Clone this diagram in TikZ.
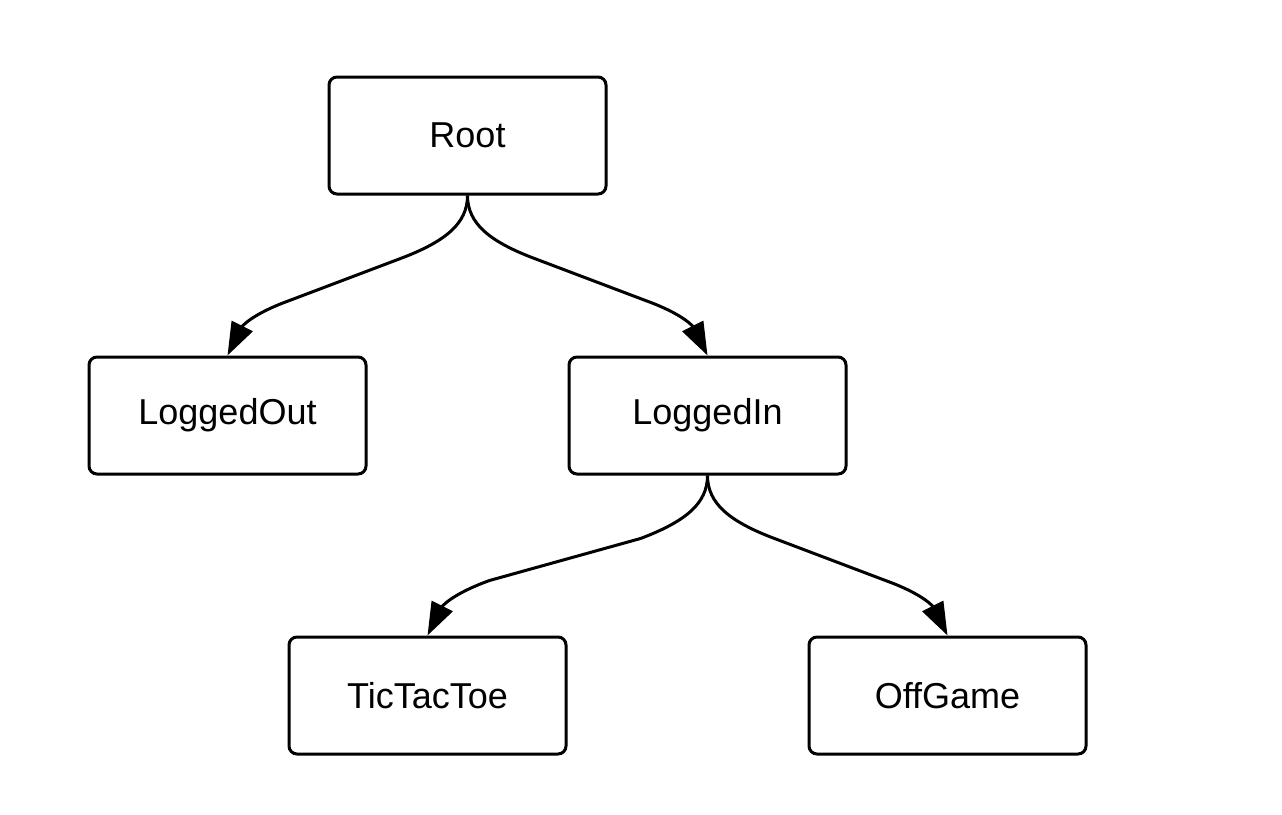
\documentclass[tikz,border=0pt]{standalone}
\usepackage{fontspec}
\setmainfont{Liberation Sans}
\usetikzlibrary{arrows.meta,calc}
\begin{document}
\begin{tikzpicture}[x=1pt,y=-1pt,
  box/.style={draw=black,line width=3pt,rounded corners=8pt,minimum width=277pt,minimum height=117pt,inner sep=0pt,font=\fontsize{36}{43}\selectfont,fill=white},
  conn/.style={line width=3pt,-{Triangle[length=33pt,width=23pt]}}]
\useasboundingbox (0,0) rectangle (1282,814);
\node[box] (root) at (467.5,135.5) {Root};
\node[box] (lo) at (227.5,415.5) {LoggedOut};
\node[box] (li) at (707.5,415.5) {LoggedIn};
\node[box] (ttt) at (427.5,695.5) {TicTacToe};
\node[box] (og) at (947.5,695.5) {OffGame};
\draw[conn] (root.south) .. controls +(0,28) and +(45,-17) .. ($(root.south)+(-67,63)$)
  -- ($(lo.north)+(62,-55)$) .. controls +(-40,14.5) and +(14,-28) .. (lo.north);
\draw[conn] (root.south) .. controls +(0,28) and +(-45,-17) .. ($(root.south)+(67,63)$)
  -- ($(li.north)+(-62,-55)$) .. controls +(40,14.5) and +(-14,-28) .. (li.north);
\draw[conn] (li.south) .. controls +(0,28) and +(45,-17) .. ($(li.south)+(-67,63)$)
  -- ($(ttt.north)+(62,-55)$) .. controls +(-40,14.5) and +(14,-28) .. (ttt.north);
\draw[conn] (li.south) .. controls +(0,28) and +(-45,-17) .. ($(li.south)+(67,63)$)
  -- ($(og.north)+(-62,-55)$) .. controls +(40,14.5) and +(-14,-28) .. (og.north);
\end{tikzpicture}
\end{document}
